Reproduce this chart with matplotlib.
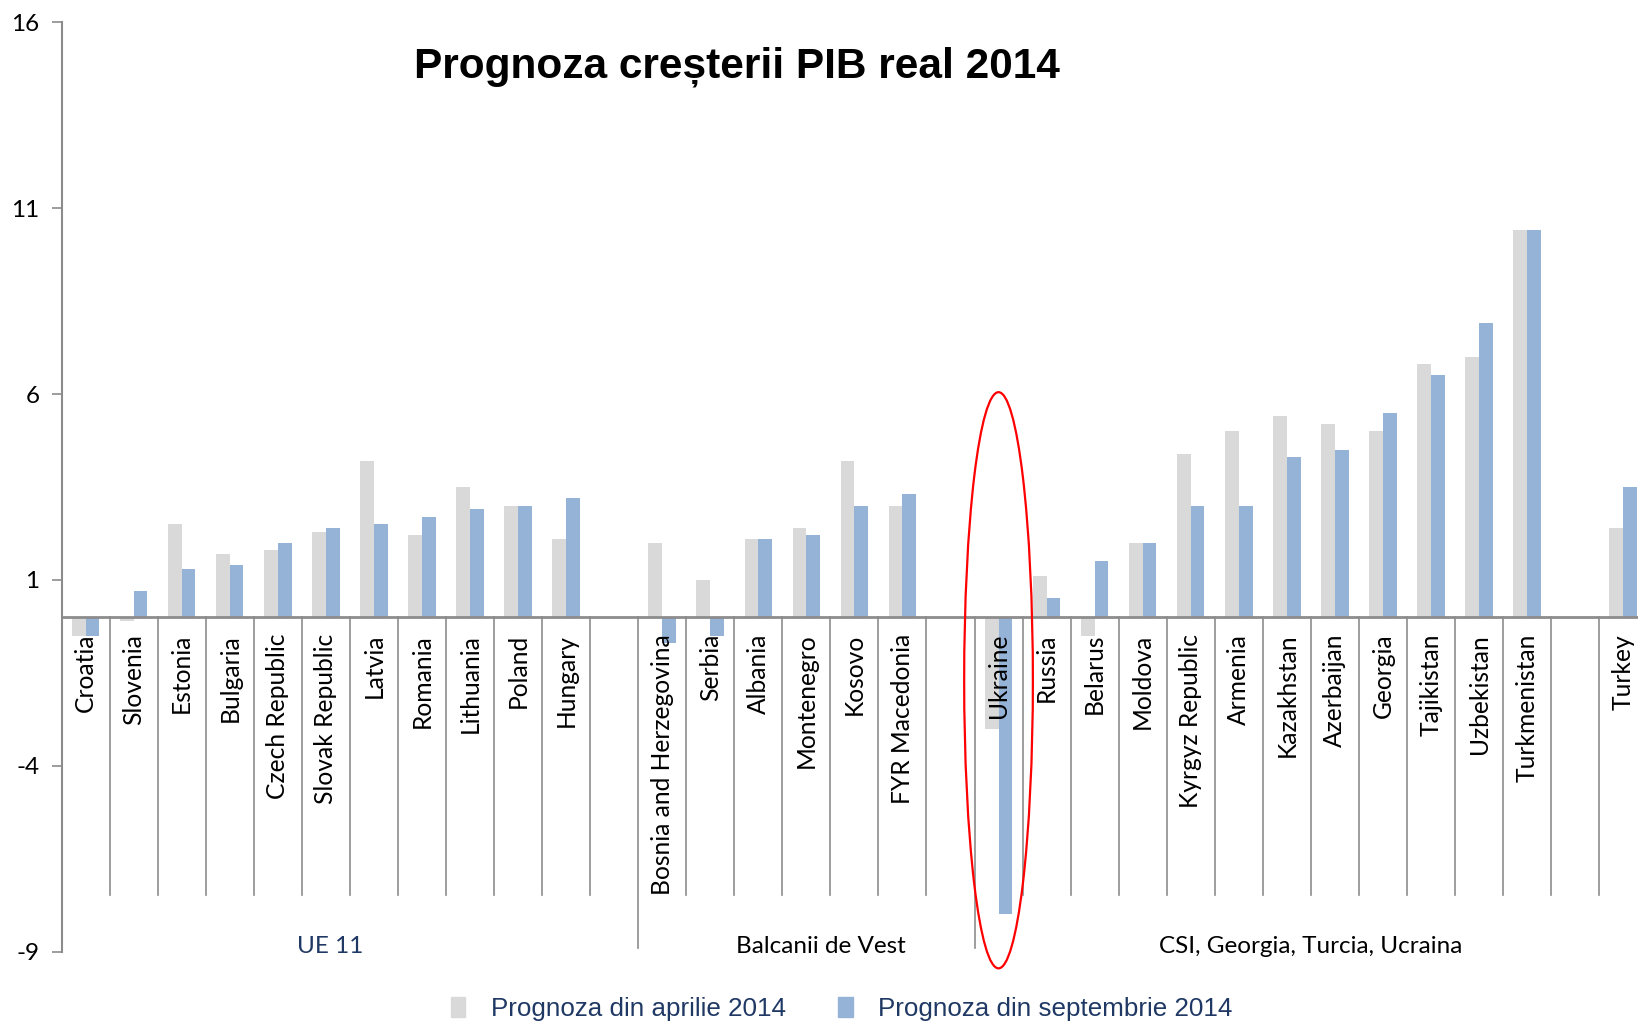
import numpy as np
import matplotlib
matplotlib.use("Agg")
import matplotlib.pyplot as plt
from matplotlib.patches import Ellipse, Patch

plt.rcParams["axes.unicode_minus"] = False

# categories, blanks ("") are the empty slots between the groups
countries = ["Croatia", "Slovenia", "Estonia", "Bulgaria", "Czech Republic",
             "Slovak Republic", "Latvia", "Romania", "Lithuania", "Poland",
             "Hungary", "",
             "Bosnia and Herzegovina", "Serbia", "Albania", "Montenegro",
             "Kosovo", "FYR Macedonia", "",
             "Ukraine", "Russia", "Belarus", "Moldova", "Kyrgyz Republic",
             "Armenia", "Kazakhstan", "Azerbaijan", "Georgia", "Tajikistan",
             "Uzbekistan", "Turkmenistan", "", "Turkey"]
nan = np.nan
april = [-0.5, -0.1, 2.5, 1.7, 1.8, 2.3, 4.2, 2.2, 3.5, 3.0, 2.1, nan,
         2.0, 1.0, 2.1, 2.4, 4.2, 3.0, nan,
         -3.0, 1.1, -0.5, 2.0, 4.4, 5.0, 5.4, 5.2, 5.0, 6.8, 7.0, 10.4, nan, 2.4]
september = [-0.5, 0.7, 1.3, 1.4, 2.0, 2.4, 2.5, 2.7, 2.9, 3.0, 3.2, nan,
             -0.7, -0.5, 2.1, 2.2, 3.0, 3.3, nan,
             -8.0, 0.5, 1.5, 2.0, 3.0, 3.0, 4.3, 4.5, 5.5, 6.5, 7.9, 10.4, nan, 3.5]
groups = ["UE 11", "Balcanii de Vest", "CSI, Georgia, Turcia, Ucraina"]
group_sizes = [12, 7, 14]
group_label_x = [5.6, 15.8, 26.0]
group_colors = ["#1F3864", "black", "black"]
yticks = [-9, -4, 1, 6, 11, 16]

GRAY = "#D9D9D9"
BLUE = "#95B3D7"
AXC = "#8C8C8C"
NAVY = "#1F3864"

fig = plt.figure(figsize=(16.38, 10.24), dpi=100)
ax = fig.add_axes([0.0376, 0.0707, 0.968, 0.9075])

n = len(countries)
x = np.arange(n) + 0.5
w = 0.286
ax.bar(x - w / 2, april, width=w, color=GRAY, zorder=1)
ax.bar(x + w / 2, september, width=w, color=BLUE, zorder=1)

ax.set_xlim(0, n)
ax.set_ylim(-9, 16)
ax.set_yticks(yticks)
ax.set_xticks([])
for s in ["top", "right", "bottom"]:
    ax.spines[s].set_visible(False)
ax.spines["left"].set_color(AXC)
ax.spines["left"].set_linewidth(1.5)
ax.tick_params(axis="y", direction="out", length=7, width=1.2, color=AXC,
               labelsize=17.5, pad=9)
for t in ax.get_yticklabels():
    t.set_fontfamily("Lato")

ax.axhline(0, color=AXC, lw=2, zorder=2)

# separators between categories, longer ones between groups
bounds = np.cumsum(group_sizes)
for b in range(1, n):
    low = -8.9 if b in bounds else -7.47
    ax.plot([b, b], [0, low], color=AXC, lw=1.2, clip_on=False, zorder=2)

for xi, name in zip(x, countries):
    if name:
        ax.text(xi, -0.45, name, rotation=90, ha="center", va="top",
                fontsize=17.7, family="Lato", zorder=4)

for gx, g, c in zip(group_label_x, groups, group_colors):
    ax.text(gx, -8.85, g, ha="center", va="center", fontsize=17.5,
            family="Lato", color=c)

# red ellipse around Ukraine
ui = countries.index("Ukraine")
ax.add_patch(Ellipse((x[ui], -1.7), 1.43, 15.5, fill=False, edgecolor="red",
                     lw=1.6, clip_on=False, zorder=5))

fig.text(0.45, 0.935, "Prognoza creșterii PIB real 2014", ha="center",
         va="center", fontsize=30.5, fontweight="bold", family="Liberation Sans")

handles = [Patch(color=GRAY), Patch(color=BLUE)]
leg = fig.legend(handles, ["Prognoza din aprilie 2014", "Prognoza din septembrie 2014"],
                 loc="center", bbox_to_anchor=(0.514, 0.015), ncol=2, frameon=False,
                 handlelength=0.55, handleheight=0.8, handletextpad=1.0,
                 columnspacing=2.0, prop={"family": "Liberation Sans", "size": 18.7})
for t in leg.get_texts():
    t.set_color(NAVY)

fig.savefig("out.png", dpi=100)
